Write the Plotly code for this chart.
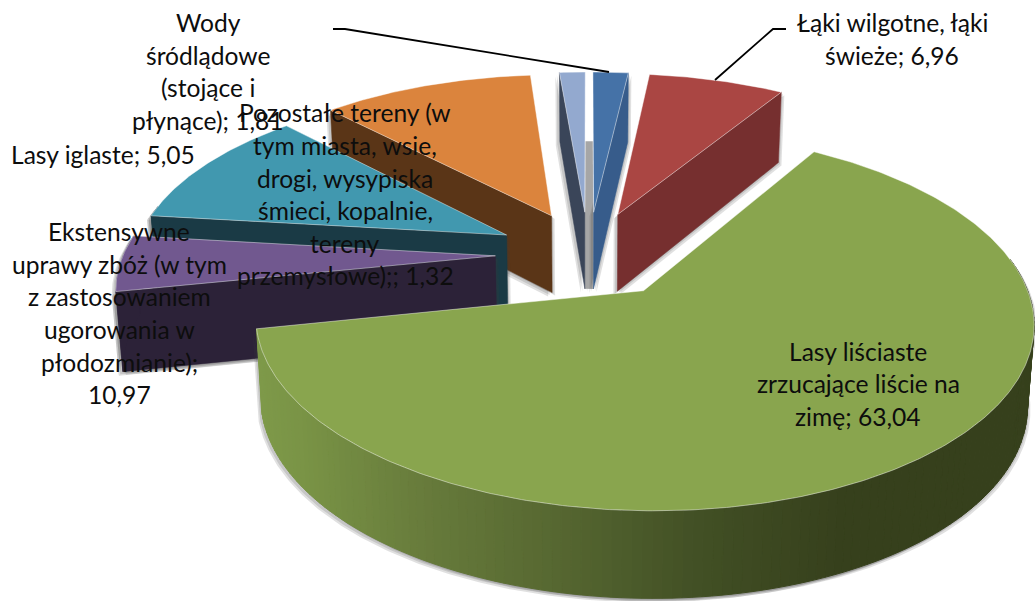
import numpy as np
import plotly.graph_objects as go

# ---- data (order clockwise from 12 o'clock) ----
categories = ["Wody śródlądowe (stojące i płynące)", "Łąki wilgotne, łąki świeże",
              "Lasy liściaste zrzucające liście na zimę", "Lasy iglaste",
              "Ekstensywne uprawy zbóż (w tym z zastosowaniem ugorowania w płodozmianie)",
              "Uprawy (bez etykiety)", "Pozostałe tereny (w tym miasta, wsie, drogi, wysypiska śmieci, kopalnie, tereny przemysłowe);"]
values = [1.81, 6.96, 63.04, 5.05, 10.97, 10.85, 1.32]
top_colors = ["#4572A7", "#AA4643", "#89A54E", "#71588F", "#4198AF", "#DB843D", "#93A9CF"]
side_colors = ["#375C8B", "#762F2F", "#55652F", "#2C2238", "#1A3A45", "#5A3517", "#3A4559"]

# ---- projection of the tilted, perspective pie ----
OX, OY, A, B, P, EXPL = 588.5, 254.0, 372.0, 173.6, 0.154, 0.25
DEPTH0, DEPTH1, XSHRINK = 78.5, 7.5, 0.985


def project(px, py, low=False):
    px, py = np.asarray(px, float), np.asarray(py, float)
    s = 1 / (1 + P * py)
    x = OX + A * px * s
    y = OY - B * py * s
    if low:
        x = OX + (x - OX) * XSHRINK
        y = y + DEPTH0 - DEPTH1 * py
    return x, y


total = sum(values)
fracs = np.array(values) / total * 360
starts = np.concatenate([[0], np.cumsum(fracs)[:-1]])
ends = starts + fracs


def centre(i):
    m = np.radians((starts[i] + ends[i]) / 2)
    return EXPL * np.sin(m), EXPL * np.cos(m)


def rim(i, a0, a1, n=None):
    n = n or max(2, int((a1 - a0) * 1.5))
    t = np.radians(np.linspace(a0, a1, n))
    cx, cy = centre(i)
    return cx + np.sin(t), cy + np.cos(t)


fig = go.Figure()


def poly(x, y, fill, line=None, lw=0):
    fig.add_trace(go.Scatter(x=np.r_[x, x[0]], y=np.r_[y, y[0]], mode="lines", fill="toself",
                             fillcolor=fill, line=dict(color=line or fill, width=lw),
                             hoverinfo="skip", showlegend=False))


def wall(i, angle):
    cx, cy = centre(i)
    t = np.radians(angle)
    ex, ey = cx + np.sin(t), cy + np.cos(t)
    x1, y1 = project([cx, ex], [cy, ey])
    x2, y2 = project([ex, cx], [ey, cy], low=True)
    return np.r_[x1, x2], np.r_[y1, y2]


def shadow(x, y):
    for dx, dy in [(-4, 4), (-2.5, 2.5), (3, 3), (1.5, 1.5)]:
        poly(x + dx, y + dy, "rgba(60,60,60,0.16)")


def outer(i):
    a0, a1 = max(starts[i], 80), min(ends[i], 280)
    if a1 <= a0:
        return None
    px, py = rim(i, a0, a1)
    x1, y1 = project(px, py)
    x2, y2 = project(px[::-1], py[::-1], low=True)
    return np.r_[x1, x2], np.r_[y1, y2]


def green_shade(x):
    stops_x = [250, 300, 420, 560, 700, 850, 1040]
    cols = np.array([[127, 155, 74], [122, 148, 70], [104, 124, 60], [86, 103, 49], [66, 80, 37], [54, 64, 28], [54, 64, 28]])
    return "rgb(%d,%d,%d)" % tuple(np.interp(x, stops_x, cols[:, k]) for k in range(3))


# back-to-front painting: which radial wall each slice shows
draw_order = [6, 0, 1, 5, 4, 3, 2]
wall_angle = {6: starts[6], 0: ends[0], 1: ends[1], 5: starts[5], 4: starts[4], 3: starts[3]}

for i in draw_order:
    if i in wall_angle:
        wx, wy = wall(i, wall_angle[i])
        shadow(wx, wy)
    o = outer(i)
    if o is not None:
        shadow(*o)
    if i == 6:
        # grey strip seen through the gap between the two narrow slices
        ax, ay = project(*centre(6), low=True)
        bx, by = project(*centre(0), low=True)
        px0, py0 = rim(6, ends[6], ends[6], 2)
        px1, py1 = rim(0, starts[0], starts[0], 2)
        cx, cy = project(px0[0], py0[0], low=True)
        dx, dy = project(px1[0], py1[0], low=True)
        poly(np.array([ax, bx, dx, cx]), np.array([ay, by, dy, cy]), "#A6A6A6")
    if i in wall_angle:
        poly(wx, wy, side_colors[i], side_colors[i], 0.5)
    if o is not None and i != 2:
        poly(o[0], o[1], side_colors[i], side_colors[i], 0.5)
    if i == 2:
        a0, a1 = max(starts[i], 80), min(ends[i], 280)
        edges = np.linspace(a0, a1, 140)
        for e0, e1 in zip(edges[:-1], edges[1:]):
            px, py = rim(i, e0, e1, 2)
            x1, y1 = project(px, py)
            x2, y2 = project(px[::-1], py[::-1], low=True)
            c = green_shade(x1.mean())
            poly(np.r_[x1, x2], np.r_[y1, y2], c, c, 1)
    px, py = rim(i, starts[i], ends[i])
    cx, cy = centre(i)
    tx, ty = project(np.r_[cx, px], np.r_[cy, py])
    poly(tx, ty, top_colors[i], "rgba(255,255,255,0.55)", 0.8)

# ---- labels (one text line each, as the source wrapped them) ----
label_lines = [
    (["Wody", "śródlądowe", "(stojące i", "płynące); 1,81"], 208, [22, 55, 87, 120]),
    (["Łąki wilgotne, łąki", "świeże; 6,96"], 892, [22, 55]),
    (["Lasy liściaste", "zrzucające liście na", "zimę; 63,04"], 858, [351, 383, 416]),
    (["Lasy iglaste; 5,05"], 103, [154]),
    (["Ekstensywne", "uprawy zbóż (w tym", "z zastosowaniem", "ugorowania w", "płodozmianie);", "10,97"],
     119, [231, 264, 296, 329, 362, 394]),
    (["Pozostałe tereny (w", "tym miasta, wsie,", "drogi, wysypiska", "śmieci, kopalnie,", "tereny", "przemysłowe);; 1,32"],
     345, [112, 145, 178, 210, 243, 275]),
]
annotations = []
for lines, xc, ys in label_lines:
    for t, yc in zip(lines, ys):
        annotations.append(dict(x=xc, y=yc, text=t, showarrow=False, xanchor="center", yanchor="middle",
                                font=dict(family="Lato, Carlito, sans-serif", size=24.6, color="#0d0d0d")))

leaders = ["M333,29 L345,29 L609,72", "M715,80 L773,29 L786,29"]
shapes = [dict(type="path", path=p, line=dict(color="black", width=1.8)) for p in leaders]

fig.update_layout(
    width=1035, height=601, margin=dict(l=0, r=0, t=0, b=0),
    paper_bgcolor="white", plot_bgcolor="white", showlegend=False,
    xaxis=dict(range=[0, 1035], visible=False, fixedrange=True),
    yaxis=dict(range=[601, 0], visible=False, fixedrange=True),
    annotations=annotations, shapes=shapes,
)
fig.write_html("out.html", post_script="document.body.style.margin='0';document.body.style.overflow='hidden';",
               config=dict(displayModeBar=False))
